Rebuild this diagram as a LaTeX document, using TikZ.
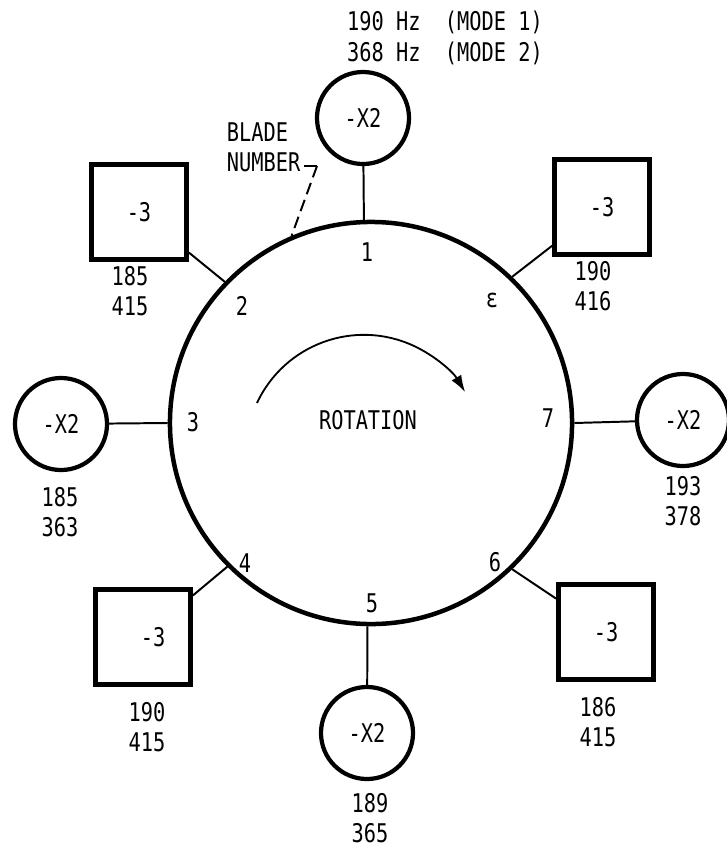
\documentclass[tikz,border=0pt]{standalone}
\usepackage{fontspec}
\setmainfont{DejaVu Sans Mono}[FakeStretch=0.79]
\usetikzlibrary{shapes.geometric, positioning, arrows.meta}
\tikzstyle{hub} = [circle, draw=black, line width=3.2pt, minimum size=10.05cm, inner sep=0pt]
\tikzstyle{weightdisc} = [circle, draw=black, line width=3pt, minimum size=2.3cm, inner sep=0pt]
\tikzstyle{weightbox} = [rectangle, draw=black, line width=3.4pt, minimum size=2.375cm, inner sep=0pt]
\tikzstyle{stub} = [line width=1.4pt]
\tikzstyle{freq} = [align=center, inner sep=0pt]
\tikzstyle{myarrow} = [-{Latex[length=0.42cm, width=0.28cm]}, line width=1.3pt]

\begin{document}
\begin{tikzpicture}[x=0.025cm, y=-0.025cm, every node/.style={font=\fontsize{18.3}{21.5}\selectfont}]
\useasboundingbox (0,0) rectangle (726,848);
\node (hub) [hub] at (371,423) {};
\node (mass1) [weightdisc] at (363,118) {-X2};
\node (mass2) [weightbox] at (139,212) {-3};
\node (mass3) [weightdisc] at (61,424) {-X2};
\node (mass4) [weightbox] at (143,637) {\hspace{0.5cm}-3};
\node (mass5) [weightdisc] at (367,733) {-X2};
\node (mass6) [weightbox] at (606,632) {-3\hspace{0.7cm}};
\node (mass7) [weightdisc] at (683,420) {-X2};
\node (mass8) [weightbox] at (602,207) {-3};
\draw [stub] (hub.92) -- (mass1);
\draw [stub] (hub.136) -- (mass2);
\draw [stub] (hub.180) -- (mass3);
\draw [stub] (hub.225) -- (mass4);
\draw [stub] (hub.269) -- (mass5);
\draw [stub] (hub.314) -- (mass6);
\draw [stub] (hub.0) -- (mass7);
\draw [stub] (hub.46) -- (mass8);
\node (num1) at (367,252) {1};
\node (num2) at (242,306) {2};
\node (num3) at (193,422) {3};
\node (num4) at (245,563) {4};
\node (num5) at (372,603) {5};
\node (num6) at (495,562) {6};
\node (num7) at (548,418) {7};
\node (num8) at (492,300) {ε};
\node (modes) [align=left] at (445,38) {190 Hz\ \ (MODE 1)\\368 Hz\ \ (MODE 2)};
\node (freq2) [freq] at (130,291) {185\\415};
\node (freq3) [freq] at (60,512) {185\\363};
\node (freq4) [freq] at (147,727) {190\\415};
\node (freq5) [freq] at (370,818) {189\\365};
\node (freq6) [freq] at (598,722) {186\\415};
\node (freq7) [freq] at (683,501) {193\\378};
\node (freq8) [freq] at (593,286) {190\\416};
\node (bladeno) [align=left, anchor=west] at (222,147) {BLADE\\NUMBER};
\coordinate (leadfoot) at (304,166);
\coordinate (leadbend) at (317,166);
\draw [stub] (leadfoot) -- (leadbend);
\draw [stub, dash pattern=on 0.3cm off 0.15cm] (leadbend) -- (hub.113);
\coordinate (turnstart) at (257,403);
\draw [myarrow] (turnstart) arc[start angle=155, end angle=31, radius=2.95cm];
\node (turn) at (368,420) {ROTATION};
\end{tikzpicture}
\end{document}
